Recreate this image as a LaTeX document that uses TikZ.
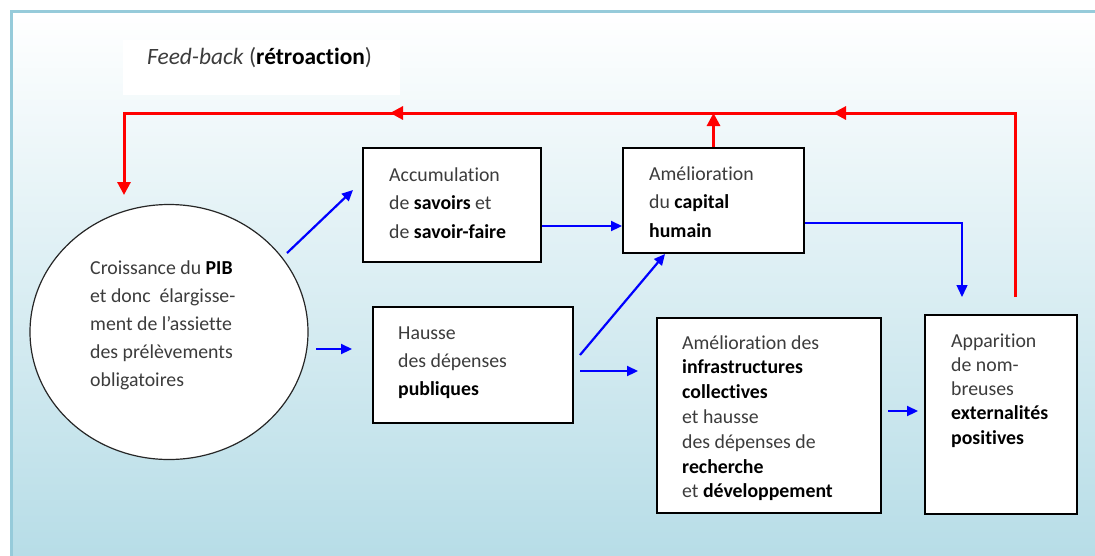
\documentclass[tikz,border=0pt]{standalone}
\usepackage{fontspec}
\setmainfont[Ligatures={NoCommon},RawFeature={-liga;-clig;-dlig}]{Carlito}
\usetikzlibrary{shapes.geometric,arrows.meta,decorations.markings,calc}
\definecolor{bgblue}{RGB}{183,221,231}
\definecolor{framec}{RGB}{150,203,218}
\definecolor{txt}{RGB}{60,60,60}
\definecolor{myred}{RGB}{255,0,0}
\definecolor{myblue}{RGB}{0,0,255}
\newcommand{\B}[1]{{\color{black}\bfseries #1}}
\newcommand{\txtlines}[2]{\parbox[t]{300pt}{\baselineskip=#1\relax #2}}
\begin{document}
\begin{tikzpicture}[x=1pt,y=-1pt,
  box/.style={draw=black,line width=2pt,fill=white,rectangle,inner sep=0pt},
  txtnode/.style={anchor=base west,inner sep=0pt,text=txt,font=\fontsize{19.8pt}{24.8pt}\selectfont},
  bluearr/.style={draw=myblue,line width=2.2pt,-{Triangle[length=11pt,width=10pt]}},
  thinblue/.style={draw=myblue,line width=1.4pt,-{Triangle[length=12pt,width=11pt]}},
  redarr/.style={draw=myred,line width=3pt,-{Triangle[length=13pt,width=13pt]}}
]
\useasboundingbox (0,0) rectangle (1095,555);
\fill[white] (0,0) rectangle (1095,555);
\shade[top color=white,bottom color=bgblue] (11,11) rectangle (1096,556);
\draw[framec,line width=3pt] (11,556) -- (11,11) -- (1096,11);
\fill[white] (123,40) rectangle (400,95);

% title
\node[txtnode,font=\fontsize{23.4pt}{28pt}\selectfont] (title) at (147,64) {\textit{Feed-back} (\B{rétroaction})};

% nodes
\node[ellipse,draw=black!85,line width=1.2pt,fill=white,minimum width=278pt,minimum height=255pt,inner sep=0pt] (pib) at (169,332) {};
\node[box,minimum width=178pt,minimum height=114pt] (acc) at (452,205) {};
\node[box,minimum width=200pt,minimum height=116pt] (hau) at (473,365) {};
\node[box,minimum width=181pt,minimum height=105pt] (cap) at (713.5,200.5) {};
\node[box,minimum width=224pt,minimum height=195pt] (inf) at (769,415.5) {};
\node[box,minimum width=152.5pt,minimum height=199pt] (app) at (1000.75,414.5) {};

% texts
\node[txtnode] (pibt) at (90,274) {\txtlines{28pt}{Croissance du \B{PIB}\\et donc\ \ élargisse-\\ment de l’assiette\\des prélèvements\\obligatoires}};
\node[txtnode] (acct) at (389,181) {\txtlines{28.5pt}{Accumulation\\de \B{savoirs} et\\de \B{savoir-faire}}};
\node[txtnode] (haut) at (398,339) {\txtlines{28pt}{Hausse\\des dépenses\\\B{publiques}}};
\node[txtnode] (capt) at (649,180) {\txtlines{28.5pt}{Amélioration\\du \B{capital}\\\B{humain}}};
\node[txtnode] (inft) at (682,349) {\txtlines{24.8pt}{Amélioration des\\\B{infrastructures}\\\B{collectives}\\et hausse\\des dépenses de\\\B{recherche}\\et \B{développement}}};
\node[txtnode] (appt) at (951,347) {\txtlines{24.3pt}{Apparition\\de nom-\\breuses\\\B{externalités}\\\B{positives}}};

% coordinates for free ends
\coordinate (r0) at (1015,297);
\coordinate (r1) at (1015,113);
\coordinate (r2) at (124,113);
\coordinate (r3) at (124,195);
\coordinate (pa0) at (287,253);
\coordinate (pa1) at (353,190);
\coordinate (ph0) at (316,349);
\coordinate (ph1) at (352,349);
\coordinate (hc0) at (580,355);
\coordinate (hi0) at (580,371);
\coordinate (hi1) at (638,371);
\coordinate (ia0) at (888,411);
\coordinate (ia1) at (918,411);
\coordinate (ca1) at (962,297);

% red feedback loop
\draw[redarr,line join=miter,postaction={decorate},
  decoration={markings,
    mark=at position 366pt with {\arrow[myred]{Triangle[length=13pt,width=13pt]}},
    mark=at position 809pt with {\arrow[myred]{Triangle[length=13pt,width=13pt]}}}]
  (r0) -- (r1) -- (r2) -- (r3);
\draw[redarr] (cap.north) -- (cap.north |- r1);

% blue arrows
\draw[bluearr] (pa0) -- (pa1);
\draw[bluearr] (ph0) -- (ph1);
\draw[bluearr] ([yshift=-21pt]acc.east) -- ([yshift=-21pt]acc.east -| cap.west);
\draw[bluearr] (hc0) -- ([xshift=-48.5pt]cap.south);
\draw[bluearr] (hi0) -- (hi1);
\draw[bluearr] (ia0) -- (ia1);
\draw[thinblue] ([yshift=-22.5pt]cap.east) -| (ca1);
\end{tikzpicture}
\end{document}
